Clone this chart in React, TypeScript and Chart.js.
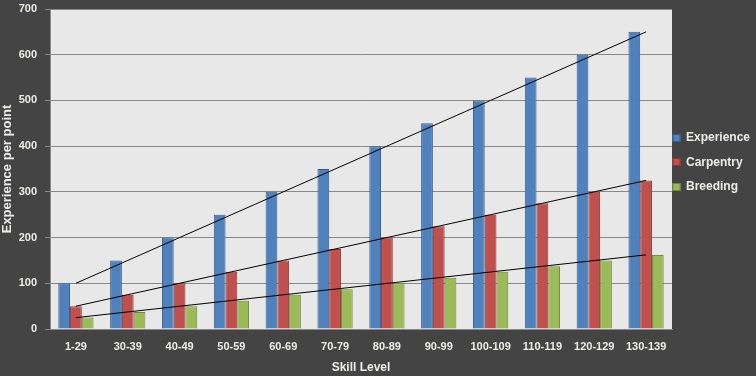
import React, { useEffect, useRef } from "react";
import { Chart, registerables } from "chart.js";

Chart.register(...registerables);

const categories = ["1-29", "30-39", "40-49", "50-59", "60-69", "70-79", "80-89", "90-99", "100-109", "110-119", "120-129", "130-139"];
const experience = [100, 150, 200, 250, 300, 350, 400, 450, 500, 550, 600, 650];
const carpentry = [50, 75, 100, 125, 150, 175, 200, 225, 250, 275, 300, 325];
const breeding = [25, 37, 50, 62, 75, 87, 100, 112, 125, 137, 150, 162];
const yTicks = [0, 100, 200, 300, 400, 500, 600, 700];

const FONT = "'Liberation Sans', Arial, sans-serif";
const TEXT = "#eeeee8";
const BG = "#444444";
const PLOT = "#e8e8e8";
const GRID = "#888888";

// least-squares linear trend over category index (like a spreadsheet linear trendline)
function trend(values: number[]): number[] {
  const n = values.length;
  let sx = 0, sy = 0, sxx = 0, sxy = 0;
  values.forEach((v, i) => { sx += i; sy += v; sxx += i * i; sxy += i * v; });
  const b = (n * sxy - sx * sy) / (n * sxx - sx * sx);
  const a = (sy - b * sx) / n;
  return values.map((_, i) => a + b * i);
}

const series = [
  { label: "Experience", data: experience, fill: "#4f81bd", border: "#385d8a" },
  { label: "Carpentry", data: carpentry, fill: "#c0504d", border: "#8c3836" },
  { label: "Breeding", data: breeding, fill: "#9bbb59", border: "#71893f" },
];

const bgPlugin = {
  id: "bgPlugin",
  beforeDraw(chart: any) {
    const { ctx, chartArea } = chart;
    ctx.save();
    ctx.fillStyle = BG;
    ctx.fillRect(0, 0, chart.width, chart.height);
    ctx.fillStyle = PLOT;
    ctx.fillRect(chartArea.left, chartArea.top, chartArea.right - chartArea.left, chartArea.bottom - chartArea.top);
    ctx.restore();
  },
};

const legendPlugin = {
  id: "customLegend",
  afterDraw(chart: any) {
    const { ctx, chartArea } = chart;
    ctx.save();
    ctx.font = `bold 12px ${FONT}`;
    ctx.textBaseline = "middle";
    ctx.textAlign = "left";
    series.forEach((s, i) => {
      const cy = 137.5 + i * 24.7;
      const x = chartArea.right + 0.5;
      ctx.fillStyle = s.fill;
      ctx.fillRect(x, Math.round(cy) - 4, 8, 8);
      ctx.strokeStyle = s.border;
      ctx.lineWidth = 1;
      ctx.strokeRect(x + 0.5, Math.round(cy) - 3.5, 7, 7);
      ctx.fillStyle = TEXT;
      ctx.fillText(s.label, chartArea.right + 14, cy);
    });
    ctx.restore();
  },
};

export default function App() {
  const ref = useRef<HTMLCanvasElement | null>(null);
  useEffect(() => {
    if (!ref.current) return;
    const datasets: any[] = [];
    series.forEach((s) => {
      datasets.push({
        type: "line",
        label: s.label + " trend",
        data: trend(s.data),
        borderColor: "#000000",
        borderWidth: 1,
        pointRadius: 0,
        fill: false,
        order: 0,
      });
    });
    series.forEach((s) => {
      datasets.push({
        type: "bar",
        label: s.label,
        data: s.data,
        backgroundColor: s.fill,
        borderColor: s.border,
        borderWidth: 1,
        categoryPercentage: 0.68,
        barPercentage: 1,
        order: 1,
      });
    });
    const chart = new Chart(ref.current, {
      type: "bar",
      data: { labels: categories, datasets },
      options: {
        animation: false,
        responsive: false,
        maintainAspectRatio: false,
        layout: { padding: { top: 9, right: 84, bottom: 0, left: 0 } },
        plugins: { legend: { display: false }, tooltip: { enabled: false } },
        scales: {
          x: {
            grid: { display: false, drawTicks: false },
            border: { display: true, color: GRID, width: 1 },
            ticks: { color: TEXT, font: { family: FONT, size: 11, weight: "bold" }, padding: 11, maxRotation: 0, autoSkip: false },
            title: { display: true, text: "Skill Level", color: TEXT, font: { family: FONT, size: 12, weight: "bold" }, padding: { top: 0, bottom: 1 } },
            afterFit(scale: any) { scale.height = 47; scale.paddingLeft = 0; scale.paddingRight = 0; },
          },
          y: {
            min: 0,
            max: 700,
            afterBuildTicks(scale: any) { scale.ticks = yTicks.map((v) => ({ value: v })); },
            grid: { color: GRID, lineWidth: 1, drawTicks: true, tickLength: 5, tickColor: GRID },
            border: { display: true, color: GRID, width: 1 },
            ticks: { color: TEXT, font: { family: FONT, size: 11, weight: "bold" }, padding: 8 },
            title: { display: true, text: "Experience per point", color: TEXT, font: { family: FONT, size: 13, weight: "bold" }, padding: { top: 0, bottom: 0 } },
            afterFit(scale: any) { scale.width = 50; scale.paddingTop = 0; scale.paddingBottom = 0; },
          },
        },
      } as any,
      plugins: [bgPlugin, legendPlugin],
    });
    return () => chart.destroy();
  }, []);
  return (
    <div style={{ position: "fixed", left: 0, top: 0, width: 756, height: 376, background: BG }}>
      <canvas ref={ref} width={756} height={376} style={{ display: "block" }} />
    </div>
  );
}
